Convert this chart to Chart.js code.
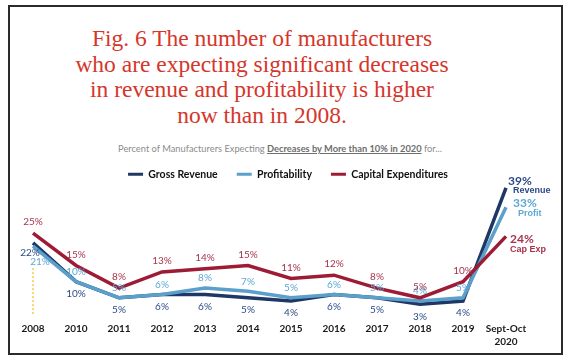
<!DOCTYPE html>
<html>
<head>
<meta charset="utf-8">
<script src="https://cdn.jsdelivr.net/npm/chart.js@4"></script>
<style>
  html, body { margin: 0; padding: 0; background: #fff; }
  body { width: 570px; height: 362px; position: relative; overflow: hidden; }
  #frame { position: absolute; left: 8px; top: 5px; width: 551px; height: 346px; border: 2px solid #2b2b2b; }
  #title { position: absolute; left: 0; top: 26px; width: 524px; text-align: center;
    font-family: "Liberation Serif", "DejaVu Serif", serif; font-size: 23.5px; line-height: 25.5px; color: #d5362b; }
  #sub { position: absolute; left: 0; top: 143px; width: 560px; text-align: center;
    font-family: Lato, "Open Sans", sans-serif; font-size: 9.3px; color: #8c8c8c; }
  #sub b { color: #6e6e6e; text-decoration: underline; }
  canvas { position: absolute; left: 0; top: 0; }
</style>
</head>
<body>
<div id="frame"></div>
<div id="title">Fig. 6 The number of manufacturers<br>who are expecting significant decreases<br>in revenue and profitability is higher<br>now than in 2008.</div>
<div id="sub">Percent of Manufacturers Expecting <b>Decreases by More than 10% in 2020</b> for...</div>
<canvas id="c" width="570" height="362"></canvas>
<script>
const categories = ["2008","2010","2011","2012","2013","2014","2015","2016","2017","2018","2019",["Sept-Oct","2020"]];
const grossRevenue = [22,10,5,6,6,5,4,6,5,3,4,39];
const profitability = [21,10,5,6,8,7,5,6,5,4,5,33];
const capitalExpenditures = [25,15,8,13,14,15,11,12,8,5,10,24];
const seriesNames = ["Gross Revenue","Profitability","Capital Expenditures"];
const endNames = ["Revenue","Profit","Cap Exp"];

const lineColors = ["#1f3764","#5b9fcb","#9e1b36"];
const labelColors = ["#2c4a85","#5ea7d4","#a8344c"];

const labelPlugin = {
  id: 'valueLabels',
  beforeDatasetsDraw(chart) {
    const ctx = chart.ctx;
    const x = chart.scales.x.getPixelForValue(0);
    const y0 = chart.scales.y.getPixelForValue(profitability[0]) + 22;
    ctx.save();
    ctx.strokeStyle = "#f2c94c";
    ctx.lineWidth = 1.5;
    ctx.setLineDash([2, 2]);
    ctx.beginPath();
    ctx.moveTo(x, y0);
    ctx.lineTo(x, chart.chartArea.bottom);
    ctx.stroke();
    ctx.restore();
  },
  afterDatasetsDraw(chart) {
    const ctx = chart.ctx;
    ctx.save();
    chart.data.datasets.forEach((ds, di) => {
      const meta = chart.getDatasetMeta(di);
      meta.data.forEach((pt, i) => {
        const v = ds.data[i];
        const last = i === ds.data.length - 1;
        ctx.fillStyle = labelColors[di];
        if (last) {
          ctx.textAlign = 'left';
          ctx.textBaseline = 'middle';
          const dy = di === 0 ? -7 : (di === 1 ? -4 : 3);
          const dx = di === 0 ? 2 : (di === 1 ? 7 : 4);
          ctx.font = "bold 12px Lato, 'Open Sans', sans-serif";
          ctx.fillText(v + "%", pt.x + dx, pt.y + dy);
          ctx.font = "bold 9px 'Liberation Sans', Arial, sans-serif";
          ctx.fillText(endNames[di], pt.x + dx + (di === 2 ? 0 : 5), pt.y + dy + 10);
          return;
        }
        ctx.font = "10px Lato, 'Open Sans', sans-serif";
        ctx.textAlign = 'center';
        ctx.textBaseline = 'middle';
        let dx = 0, dy;
        if (di === 2) dy = -11;
        else if (di === 1) { dy = -10; if (i === 0) { dx = 7; dy = 16; } }
        else { dy = 12; if (i === 0) { dx = -3; dy = 10; } }
        ctx.fillText(v + "%", pt.x + dx, pt.y + dy);
      });
    });
    ctx.restore();
  }
};

const seriesData = [grossRevenue, profitability, capitalExpenditures];
const orders = [2, 1, 0];

new Chart(document.getElementById('c'), {
  type: 'line',
  data: {
    labels: categories,
    datasets: seriesData.map((d, i) => ({
      label: seriesNames[i],
      data: d,
      borderColor: lineColors[i],
      backgroundColor: lineColors[i],
      borderWidth: 3.5,
      pointRadius: 0,
      tension: 0,
      order: orders[i],
      clip: false
    }))
  },
  options: {
    responsive: false,
    animation: false,
    devicePixelRatio: 1,
    layout: { padding: { top: 150, left: 10, right: 4, bottom: 6 } },
    plugins: {
      tooltip: { enabled: false },
      legend: {
        position: 'top',
        labels: {
          boxWidth: 15,
          boxHeight: 3,
          padding: 19,
          color: '#111',
          font: { family: "Lato, 'Open Sans', sans-serif", size: 10.5, weight: 'bold' },
          sort: (a, b) => a.datasetIndex - b.datasetIndex,
          generateLabels(chart) {
            return Chart.defaults.plugins.legend.labels.generateLabels(chart).map(it => {
              it.lineWidth = 0;
              it.fillStyle = lineColors[it.datasetIndex];
              it.strokeStyle = lineColors[it.datasetIndex];
              return it;
            });
          }
        }
      }
    },
    scales: {
      x: {
        offset: false,
        grid: { display: false, drawTicks: false },
        border: { display: false },
        ticks: {
          padding: 8,
          color: '#1a1a1a',
          maxRotation: 0,
          autoSkip: false,
          font: { family: "Lato, 'Open Sans', sans-serif", size: 10, weight: 'bold', lineHeight: 1.3 }
        }
      },
      y: {
        position: 'left',
        min: 0, max: 38.5,
        grid: { display: false, drawTicks: false },
        border: { display: false },
        ticks: { display: false },
        afterFit(s) { s.width = 23; }
      },
      y2: {
        position: 'right',
        min: 0, max: 1,
        grid: { display: false, drawTicks: false },
        border: { display: false },
        ticks: { display: false },
        afterFit(s) { s.width = 60; }
      }
    }
  },
  plugins: [labelPlugin]
});
</script>
</body>
</html>
